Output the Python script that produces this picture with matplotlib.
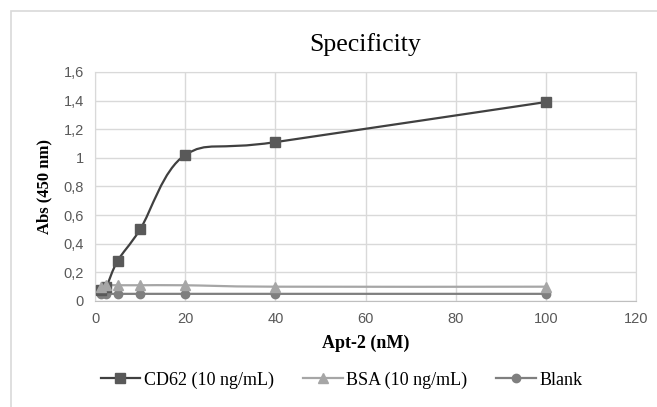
import matplotlib.pyplot as plt
import numpy as np
from matplotlib.path import Path
from matplotlib.patches import PathPatch, Rectangle

# data
apt_nm = [1.25, 2.5, 5, 10, 20, 40, 100]
cd62 = [0.08, 0.10, 0.28, 0.50, 1.02, 1.11, 1.39]
bsa = [0.10, 0.11, 0.11, 0.11, 0.11, 0.10, 0.10]
blank = [0.05, 0.05, 0.05, 0.05, 0.05, 0.05, 0.05]

x_ticks = [0, 20, 40, 60, 80, 100, 120]
y_ticks = [0, 0.2, 0.4, 0.6, 0.8, 1.0, 1.2, 1.4, 1.6]
y_labels = ['0', '0,2', '0,4', '0,6', '0,8', '1', '1,2', '1,4', '1,6']

serif = ['Liberation Serif', 'DejaVu Serif']
sans = ['Liberation Sans', 'DejaVu Sans']


def smooth_path(x, y, t=1 / 6):
    # Excel-like smoothed line: cubic bezier through the points
    x = np.asarray(x, float)
    y = np.asarray(y, float)
    n = len(x)
    verts = [(x[0], y[0])]
    codes = [Path.MOVETO]
    for i in range(n - 1):
        p0 = np.array([x[max(i - 1, 0)], y[max(i - 1, 0)]])
        p1 = np.array([x[i], y[i]])
        p2 = np.array([x[i + 1], y[i + 1]])
        p3 = np.array([x[min(i + 2, n - 1)], y[min(i + 2, n - 1)]])
        c1 = p1 + (p2 - p0) * t
        c2 = p2 - (p3 - p1) * t
        verts += [tuple(c1), tuple(c2), tuple(p2)]
        codes += [Path.CURVE4] * 3
    return Path(verts, codes)


fig = plt.figure(figsize=(6.57, 4.07), dpi=100)
ax = fig.add_axes([95 / 657, 1 - 301 / 407, (636 - 95) / 657, (301 - 72) / 407])

# outer chart border
fig.patches.append(Rectangle((11 / 657, -0.1), 1.1, 1 - 11 / 407 + 0.1,
                             transform=fig.transFigure, fill=False,
                             edgecolor='#d9d9d9', linewidth=1.2))

series = [
    (cd62, 'CD62 (10 ng/mL)', 's', '#404040', '#595959', 6.5),
    (bsa, 'BSA (10 ng/mL)', '^', '#a6a6a6', '#a6a6a6', 6.5),
    (blank, 'Blank', 'o', '#7f7f7f', '#7f7f7f', 6),
]
for vals, name, mk, lc, mc, ms in series[::-1]:
    ax.add_patch(PathPatch(smooth_path(apt_nm, vals), fill=False,
                           edgecolor=lc, linewidth=1.6, zorder=3))
# markers: blank, cd62, then bsa on top (as in the original)
for vals, name, mk, lc, mc, ms in [series[2], series[0], series[1]]:
    ax.plot(apt_nm, vals, linestyle='none', marker=mk, color=mc,
            markersize=ms, zorder=4)
for vals, name, mk, lc, mc, ms in series:
    ax.plot([], [], color=lc, linewidth=1.6, marker=mk,
            markerfacecolor=mc, markeredgecolor=mc, markersize=ms, label=name)

ax.set_xlim(0, 120)
ax.set_ylim(0, 1.6)
ax.set_xticks(x_ticks)
ax.set_yticks(y_ticks)
ax.set_yticklabels(y_labels)
ax.grid(True, color='#d9d9d9', linewidth=1)
ax.set_axisbelow(True)
for s in ax.spines.values():
    s.set_color('#d9d9d9')
ax.spines['bottom'].set_color('#bfbfbf')
ax.tick_params(length=0, pad=8, labelcolor='#595959', labelsize=10.5)
for lbl in ax.get_xticklabels() + ax.get_yticklabels():
    lbl.set_family(sans)

ax.set_title('Specificity', family=serif, fontsize=18.5, pad=15)
ax.set_xlabel('Apt-2 (nM)', family=serif, fontsize=13, fontweight='bold', labelpad=6)
ax.set_ylabel('Abs (450 nm)', family=serif, fontsize=12, fontweight='bold', labelpad=8)

fig.legend(loc='lower center', bbox_to_anchor=(0.52, 0.005), ncol=3, frameon=False,
           prop={'family': serif, 'size': 13}, handlelength=2.2,
           handletextpad=0.2, columnspacing=1.6)

fig.savefig('out.png', dpi=100)
